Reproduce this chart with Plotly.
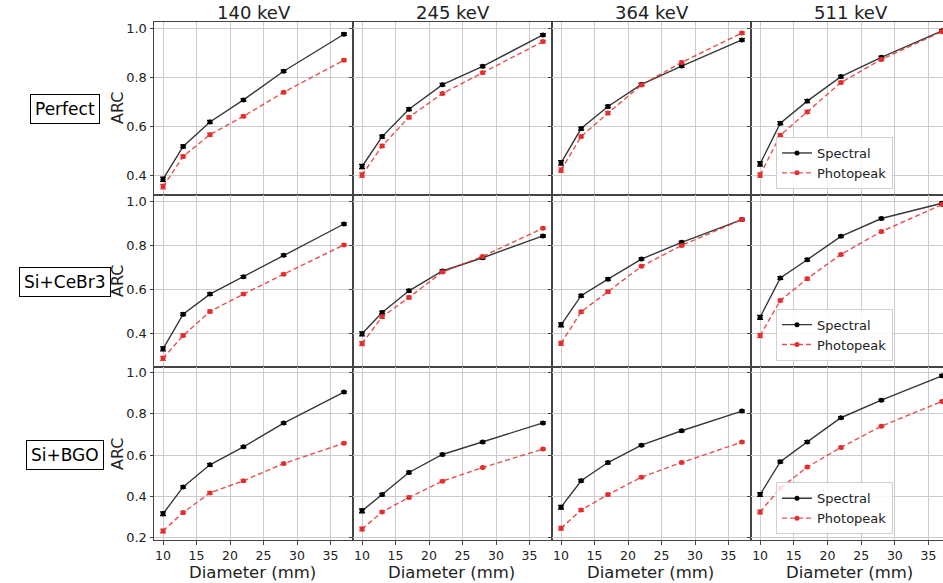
import plotly.graph_objects as go
from plotly.subplots import make_subplots

diameters = [10, 13, 17, 22, 28, 37]
energies = ["140 keV", "245 keV", "364 keV", "511 keV"]
configs = ["Perfect", "Si+CeBr3", "Si+BGO"]

# Spectral ARC values [config][energy]
spectral = [
    [[0.383, 0.517, 0.617, 0.707, 0.824, 0.975],
     [0.435, 0.557, 0.669, 0.769, 0.844, 0.972],
     [0.450, 0.590, 0.680, 0.770, 0.845, 0.952],
     [0.446, 0.612, 0.702, 0.802, 0.881, 0.989]],
    [[0.332, 0.489, 0.580, 0.659, 0.756, 0.898],
     [0.400, 0.497, 0.595, 0.685, 0.745, 0.844],
     [0.441, 0.573, 0.648, 0.739, 0.815, 0.918],
     [0.475, 0.653, 0.736, 0.842, 0.923, 0.992]],
    [[0.316, 0.446, 0.553, 0.640, 0.755, 0.905],
     [0.330, 0.409, 0.516, 0.603, 0.663, 0.756],
     [0.348, 0.476, 0.564, 0.648, 0.718, 0.813],
     [0.409, 0.568, 0.664, 0.781, 0.866, 0.984]],
]
# Photopeak ARC values [config][energy]
photopeak = [
    [[0.353, 0.476, 0.565, 0.640, 0.738, 0.869],
     [0.400, 0.519, 0.636, 0.733, 0.818, 0.945],
     [0.420, 0.558, 0.653, 0.768, 0.860, 0.980],
     [0.400, 0.563, 0.658, 0.778, 0.872, 0.986]],
    [[0.289, 0.392, 0.501, 0.580, 0.670, 0.803],
     [0.356, 0.477, 0.565, 0.680, 0.751, 0.879],
     [0.357, 0.500, 0.591, 0.706, 0.801, 0.918],
     [0.392, 0.551, 0.650, 0.760, 0.864, 0.986]],
    [[0.233, 0.322, 0.417, 0.476, 0.559, 0.658],
     [0.242, 0.325, 0.395, 0.474, 0.540, 0.629],
     [0.246, 0.334, 0.409, 0.493, 0.564, 0.663],
     [0.325, 0.440, 0.542, 0.637, 0.740, 0.860]],
]
errors = [0.009, 0.006, 0.006, 0.005, 0.005, 0.005]

x_ticks = [10, 15, 20, 25, 30, 35]
y_ranges = [[0.320, 1.025], [0.248, 1.031], [0.189, 1.025]]
x_range = [8.65, 38.35]
x_range_last = [8.65, 37.15]

W, H = 943, 583
ML, MR, MT, MB = 154, 0, 22, 43
PW = W - ML - MR
PH = H - MT - MB

fig = make_subplots(rows=3, cols=4, horizontal_spacing=0, vertical_spacing=0,
                    column_widths=[199, 199, 199, 192])

BLACK = "rgba(20,20,20,0.85)"
RED = "rgba(228,50,50,0.85)"
legend_names = ["legend", "legend2", "legend3"]

for r in range(3):
    for c in range(4):
        show = (c == 3)
        fig.add_trace(go.Scatter(
            x=diameters, y=spectral[r][c], mode="lines+markers", name="Spectral",
            line=dict(color=BLACK, width=1.4),
            marker=dict(color="black", size=5),
            error_y=dict(type="data", array=errors, color="black", thickness=1.3, width=3),
            showlegend=show, legend=legend_names[r]), row=r + 1, col=c + 1)
        fig.add_trace(go.Scatter(
            x=diameters, y=photopeak[r][c], mode="lines+markers", name="Photopeak",
            line=dict(color=RED, width=1.4, dash="5px,3px"),
            marker=dict(color="rgb(228,45,45)", size=5),
            error_y=dict(type="data", array=errors, color=RED, thickness=1.3, width=3),
            showlegend=show, legend=legend_names[r]), row=r + 1, col=c + 1)
        fig.update_xaxes(range=x_range_last if c == 3 else x_range,
                         tickvals=x_ticks, showticklabels=(r == 2),
                         row=r + 1, col=c + 1)
        fig.update_yaxes(range=y_ranges[r], dtick=0.2, tick0=0, tickformat=".1f",
                         showticklabels=(c == 0), row=r + 1, col=c + 1)

fig.update_xaxes(showgrid=True, gridcolor="#cccccc", gridwidth=1.3,
                 showline=True, linecolor="#444", linewidth=1, mirror=True,
                 ticks="outside", ticklen=3.5, tickcolor="#444",
                 tickfont=dict(family="DejaVu Sans", size=12.5, color="#222"),
                 zeroline=False)
fig.update_yaxes(showgrid=True, gridcolor="#cccccc", gridwidth=1.3,
                 showline=True, linecolor="#444", linewidth=1, mirror=True,
                 ticks="outside", ticklen=3.5, tickcolor="#444",
                 tickfont=dict(family="DejaVu Sans", size=13, color="#222"),
                 zeroline=False)

def px_x(x):
    return (x - ML) / PW

def px_y(y):
    return (H - MB - y) / PH

annotations = []
col_centers = [253.5, 452.5, 651.5, 850.5]
for c, e in enumerate(energies):
    annotations.append(dict(x=px_x(col_centers[c]), y=px_y(13), xref="paper", yref="paper",
                            text=e, showarrow=False, xanchor="center", yanchor="middle",
                            font=dict(family="DejaVu Sans", size=18, color="#222")))
    annotations.append(dict(x=px_x(col_centers[c] - 1), y=px_y(572.5), xref="paper", yref="paper",
                            text="Diameter (mm)", showarrow=False, xanchor="center", yanchor="middle",
                            font=dict(family="DejaVu Sans", size=16.5, color="#222")))
row_centers = [108, 281, 454]
for r, name in enumerate(configs):
    annotations.append(dict(x=px_x(117), y=px_y(row_centers[r]), xref="paper", yref="paper",
                            text="ARC", showarrow=False, textangle=-90,
                            xanchor="center", yanchor="middle",
                            font=dict(family="DejaVu Sans", size=16, color="#222")))
    annotations.append(dict(x=px_x(65), y=px_y(row_centers[r] + 1), xref="paper", yref="paper",
                            text=name, showarrow=False, xanchor="center", yanchor="middle",
                            bordercolor="black", borderwidth=1, borderpad=4, bgcolor="white",
                            font=dict(family="DejaVu Sans", size=17, color="black")))

legend_style = dict(xanchor="right", yanchor="bottom", bgcolor="rgba(255,255,255,0.85)",
                    bordercolor="#d0d0d0", borderwidth=1,
                    font=dict(family="DejaVu Sans", size=13, color="#222"),
                    tracegroupgap=0, itemwidth=30)
legend_bottoms = [189, 360.7, 534.3]

fig.update_layout(
    width=W, height=H,
    margin=dict(l=ML, r=MR, t=MT, b=MB),
    paper_bgcolor="white", plot_bgcolor="white",
    annotations=annotations,
    legend=dict(x=px_x(893), y=px_y(legend_bottoms[0]), **legend_style),
    legend2=dict(x=px_x(893), y=px_y(legend_bottoms[1]), **legend_style),
    legend3=dict(x=px_x(893), y=px_y(legend_bottoms[2]), **legend_style),
)

fig.write_html("out.html", config={"displayModeBar": False},
               post_script="document.body.style.margin='0px';document.body.style.overflow='hidden';")
